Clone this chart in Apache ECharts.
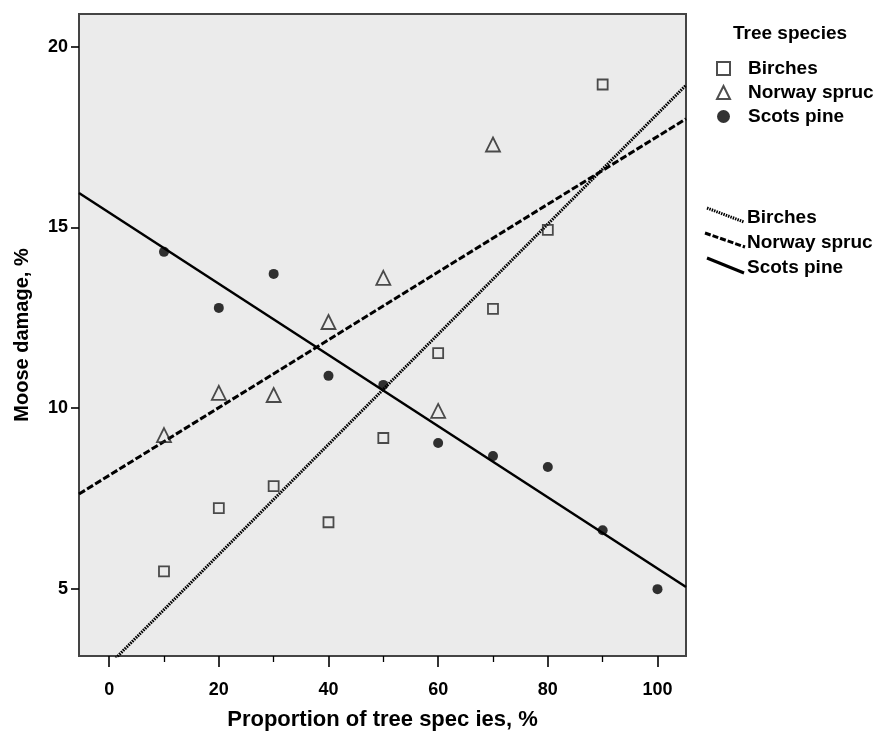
<!DOCTYPE html>
<html>
<head>
<meta charset="utf-8">
<script src="https://cdn.jsdelivr.net/npm/echarts@6/dist/echarts.min.js"></script>
<style>html,body{margin:0;padding:0;background:#fff;}#c{width:877px;height:731px;}</style>
</head>
<body>
<div id="c"></div>
<script>
// ---- data ----
const birchX = [10, 20, 30, 40, 50, 60, 70, 80, 90];
const birchY = [5.48, 7.23, 7.84, 6.84, 9.17, 11.52, 12.74, 14.93, 18.95];
const spruceX = [10, 20, 30, 40, 50, 60, 70];
const spruceY = [9.25, 10.42, 10.36, 12.38, 13.6, 9.92, 17.29];
const pineX = [10, 20, 30, 40, 50, 60, 70, 80, 90, 100];
const pineY = [14.32, 12.77, 13.71, 10.89, 10.64, 9.03, 8.67, 8.37, 6.62, 4.99];
// fit lines (endpoints)
const birchFit = [[-5.5, 2.06], [105.2, 18.93]];
const spruceFit = [[-5.5, 7.62], [105.2, 18.0]];
const pineFit = [[-5.5, 15.95], [105.2, 5.05]];
const xMajorTicks = [0, 20, 40, 60, 80, 100];
const xMinorTicks = [10, 30, 50, 70, 90];
const yTicks = [5, 10, 15, 20];
const seriesNames = ['Birches', 'Norway spruc', 'Scots pine'];

const zip = (xs, ys) => xs.map((x, i) => [x, ys[i]]);
const FONT = '"Liberation Sans", Arial, sans-serif';

const chart = echarts.init(document.getElementById('c'), null, {renderer: 'canvas'});
const xMin = -5.5, xMax = 105.2, yMin = 3.14, yMax = 20.9;

const hollow = {color: 'rgba(0,0,0,0)', borderColor: '#222', borderWidth: 1.8};

chart.setOption({
  backgroundColor: '#fff',
  animation: false,
  grid: {left: 79, right: 191, top: 14, bottom: 75, show: true, containLabel: false, outerBoundsMode: 'none',
         backgroundColor: '#ebebeb', borderColor: '#444', borderWidth: 2},
  xAxis: [{
    type: 'value', min: xMin, max: xMax,
    name: 'Proportion of tree spec ies, %', nameLocation: 'middle', nameGap: 53,
    nameTextStyle: {fontFamily: FONT, fontWeight: 'bold', fontSize: 22, color: '#000'},
    axisLine: {show: false, onZero: false},
    splitLine: {show: false},
    axisTick: {show: true, customValues: xMajorTicks, length: 11, lineStyle: {color: '#000', width: 1.6}},
    axisLabel: {customValues: xMajorTicks, margin: 25, fontFamily: FONT, fontWeight: 'bold', fontSize: 18, color: '#000'}
  }, {
    type: 'value', min: xMin, max: xMax, position: 'bottom',
    axisLine: {show: false, onZero: false}, splitLine: {show: false},
    axisTick: {show: true, customValues: xMinorTicks, length: 6, lineStyle: {color: '#000', width: 1.3}},
    axisLabel: {show: false}
  }],
  yAxis: {
    type: 'value', min: yMin, max: yMax,
    name: 'Moose damage, %', nameLocation: 'middle', nameGap: 47, nameRotate: 90,
    nameTextStyle: {fontFamily: FONT, fontWeight: 'bold', fontSize: 20, color: '#000'},
    axisLine: {show: false, onZero: false}, splitLine: {show: false},
    axisTick: {show: true, customValues: yTicks, length: 8, lineStyle: {color: '#000', width: 1.6}},
    axisLabel: {customValues: yTicks, margin: 11, fontFamily: FONT, fontWeight: 'bold', fontSize: 18, color: '#000'}
  },
  legend: {
    data: seriesNames, orient: 'vertical', left: 711, top: 54,
    itemWidth: 13, itemHeight: 13, itemGap: 5,
    textStyle: {fontFamily: FONT, fontWeight: 'bold', fontSize: 19, color: '#000', padding: [0, 0, 0, 13]},
    selectedMode: false
  },
  graphic: [
    {type: 'text', left: 733, top: 24, style: {text: 'Tree species', font: 'bold 19px ' + FONT, fill: '#000'}},
    {type: 'line', shape: {x1: 707, y1: 208, x2: 744, y2: 222}, style: {stroke: '#000', lineWidth: 3, lineDash: [1.5, 1]}},
    {type: 'line', shape: {x1: 705, y1: 233, x2: 745, y2: 247}, style: {stroke: '#000', lineWidth: 3, lineDash: [6, 2]}},
    {type: 'line', shape: {x1: 707, y1: 258, x2: 744, y2: 273}, style: {stroke: '#000', lineWidth: 3}},
    {type: 'text', left: 747, top: 208, style: {text: 'Birches', font: 'bold 19px ' + FONT, fill: '#000'}},
    {type: 'text', left: 747, top: 233, style: {text: 'Norway spruc', font: 'bold 19px ' + FONT, fill: '#000'}},
    {type: 'text', left: 747, top: 258, style: {text: 'Scots pine', font: 'bold 19px ' + FONT, fill: '#000'}}
  ],
  series: [
    {name: 'Birches', type: 'scatter', symbol: 'rect', symbolSize: 10, data: zip(birchX, birchY), itemStyle: hollow, z: 3},
    {name: 'Norway spruc', type: 'scatter', symbol: 'triangle', symbolSize: 14, data: zip(spruceX, spruceY), itemStyle: hollow, z: 3},
    {name: 'Scots pine', type: 'scatter', symbol: 'circle', symbolSize: 10, data: zip(pineX, pineY), itemStyle: {color: '#000'}, z: 3},
    {name: 'Birches fit', type: 'line', data: birchFit, showSymbol: false, clip: true, silent: true,
     lineStyle: {color: '#000', width: 3, type: [1.6, 1]}, z: 2},
    {name: 'Norway spruc fit', type: 'line', data: spruceFit, showSymbol: false, clip: true, silent: true,
     lineStyle: {color: '#000', width: 3, type: [7, 2.5]}, z: 2},
    {name: 'Scots pine fit', type: 'line', data: pineFit, showSymbol: false, clip: true, silent: true,
     lineStyle: {color: '#000', width: 2.5}, z: 2}
  ]
});
</script>
</body>
</html>
